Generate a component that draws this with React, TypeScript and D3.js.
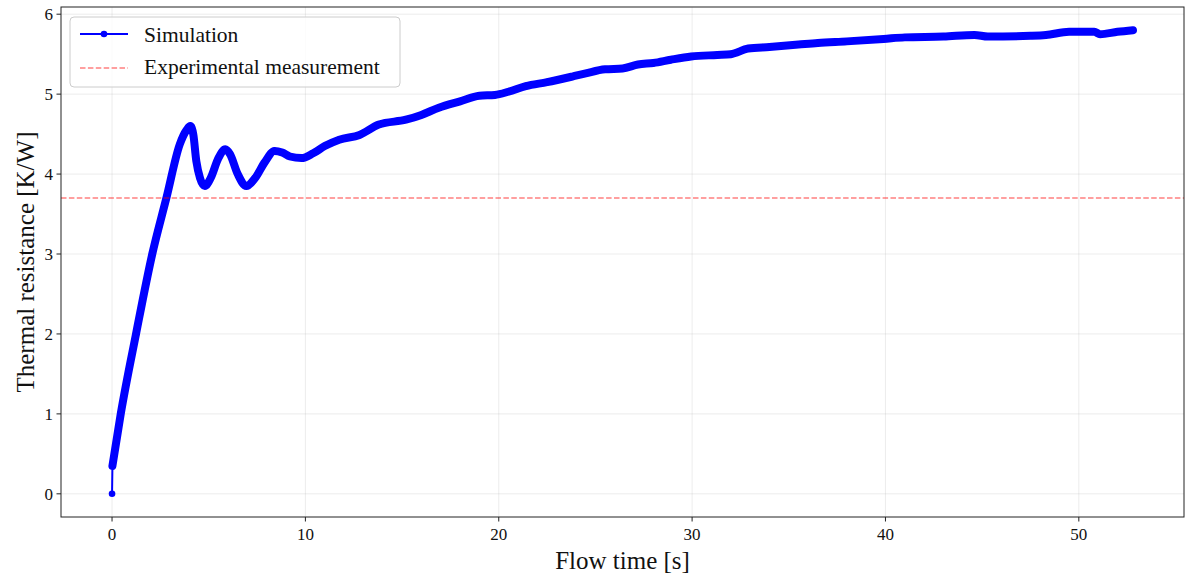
import React from "react";
import * as d3 from "d3";

// Simulated thermal resistance over flow time
const flowTime = [
  0, 0.02, 0.45, 1.24, 2.08, 2.82, 3.5, 3.85, 4.05, 4.2, 4.36, 4.55, 4.8, 5.1, 5.5, 5.86,
  6.1, 6.5, 6.94, 7.4, 7.9, 8.4, 8.8, 9.2, 9.8, 10.4, 11.0, 11.75, 12.8, 13.8,
  15.2, 16.0, 16.9, 18.0, 19.0, 19.8, 20.5, 21.4, 22.5, 23.8, 24.5, 25.5, 26.4,
  27.2, 28.0, 28.9, 29.95, 31.3, 32.0, 32.9, 34.0, 35.5, 36.5, 38.0, 39.9, 41.0,
  43.0, 44.6, 45.3, 47.5, 48.3, 49.5, 50.8, 51.1, 52.0, 52.8,
];
const thermalResistance = [
  0, 0.35, 1.0, 2.0, 3.0, 3.71, 4.37, 4.55, 4.6, 4.5, 4.16, 3.95, 3.85, 3.95, 4.2, 4.31,
  4.25, 4.0, 3.85, 3.95, 4.15, 4.29, 4.27, 4.22, 4.2, 4.26, 4.35, 4.43, 4.49, 4.62,
  4.68, 4.74, 4.83, 4.91, 4.98, 4.99, 5.03, 5.1, 5.15, 5.22, 5.26, 5.31, 5.32,
  5.37, 5.39, 5.43, 5.47, 5.49, 5.5, 5.57, 5.59, 5.62, 5.64, 5.66, 5.69, 5.71,
  5.72, 5.74, 5.72, 5.73, 5.74, 5.78, 5.78, 5.75, 5.78, 5.8,
];
const experimentalValue = 3.7;

const xTicks = [0, 10, 20, 30, 40, 50];
const yTicks = [0, 1, 2, 3, 4, 5, 6];

const legendLabels = ["Simulation", "Experimental measurement"];

const W = 1189;
const H = 581;
const plot = { left: 61, right: 1184, top: 7, bottom: 517 };
const FONT = "'Liberation Serif', 'Times New Roman', serif";
const BLUE = "#0000ff";
const INK = "#111";

export default function App() {
  const xMax = d3.max(flowTime) as number;
  const yMax = d3.max(thermalResistance) as number;
  const xPad = xMax * 0.05;
  const yPad = yMax * 0.05;

  const x = d3
    .scaleLinear()
    .domain([-xPad, xMax + xPad])
    .range([plot.left, plot.right]);
  const y = d3
    .scaleLinear()
    .domain([-yPad, yMax + yPad])
    .range([plot.bottom, plot.top]);

  const pts = flowTime.map((t, i) => [t, thermalResistance[i]] as [number, number]);

  const line = d3
    .line<[number, number]>()
    .x((d) => x(d[0]))
    .y((d) => y(d[1]))
    .curve(d3.curveMonotoneX);

  // The thin connecting line covers all samples; the dense marker band starts after t=0
  const thinPath = d3
    .line<[number, number]>()
    .x((d) => x(d[0]))
    .y((d) => y(d[1]))(pts) as string;
  const bandPath = line(pts.slice(1)) as string;

  const expY = y(experimentalValue);

  return (
    <svg width={W} height={H} style={{ display: "block", position: "absolute", left: 0, top: 0 }}>
      <rect width={W} height={H} fill="#fff" />
      <defs>
        <clipPath id="plotArea">
          <rect x={plot.left} y={plot.top} width={plot.right - plot.left} height={plot.bottom - plot.top} />
        </clipPath>
      </defs>

      {/* grid */}
      <g stroke="#b0b0b0" strokeOpacity={0.3} strokeWidth={0.8}>
        {xTicks.map((t) => (
          <line key={"gx" + t} x1={x(t)} x2={x(t)} y1={plot.top} y2={plot.bottom} />
        ))}
        {yTicks.map((t) => (
          <line key={"gy" + t} x1={plot.left} x2={plot.right} y1={y(t)} y2={y(t)} />
        ))}
      </g>

      <g clipPath="url(#plotArea)">
        {/* simulation */}
        <path d={thinPath} fill="none" stroke={BLUE} strokeWidth={2} />
        <path
          d={bandPath}
          fill="none"
          stroke={BLUE}
          strokeWidth={8}
          strokeLinecap="round"
          strokeLinejoin="round"
        />
        {pts.map((p, i) => (
          <circle key={"m" + i} cx={x(p[0])} cy={y(p[1])} r={3.3} fill={BLUE} />
        ))}
        {/* experimental reference */}
        <line
          x1={plot.left}
          x2={plot.right}
          y1={expY}
          y2={expY}
          stroke="#ff0000"
          strokeOpacity={0.5}
          strokeWidth={1.5}
          strokeDasharray="5.5,2.4"
        />
      </g>

      {/* axes frame */}
      <rect
        x={plot.left}
        y={plot.top}
        width={plot.right - plot.left}
        height={plot.bottom - plot.top}
        fill="none"
        stroke="#222"
        strokeWidth={1}
      />

      {/* ticks */}
      <g fontFamily={FONT} fontSize={17} fill={INK}>
        {xTicks.map((t) => (
          <g key={"xt" + t}>
            <line x1={x(t)} x2={x(t)} y1={plot.bottom} y2={plot.bottom + 4.5} stroke="#222" strokeWidth={1} />
            <text x={x(t)} y={plot.bottom + 23} textAnchor="middle">
              {t}
            </text>
          </g>
        ))}
        {yTicks.map((t) => (
          <g key={"yt" + t}>
            <line x1={plot.left - 4.5} x2={plot.left} y1={y(t)} y2={y(t)} stroke="#222" strokeWidth={1} />
            <text x={plot.left - 8} y={y(t) + 6} textAnchor="end">
              {t}
            </text>
          </g>
        ))}
      </g>

      {/* axis titles */}
      <text
        x={(plot.left + plot.right) / 2}
        y={569}
        textAnchor="middle"
        fontFamily={FONT}
        fontSize={25}
        fill={INK}
      >
        Flow time [s]
      </text>
      <text
        transform={`translate(34, ${(plot.top + plot.bottom) / 2}) rotate(-90)`}
        textAnchor="middle"
        fontFamily={FONT}
        fontSize={25}
        fill={INK}
      >
        Thermal resistance [K/W]
      </text>

      {/* legend */}
      <g>
        <rect x={70} y={17} width={330} height={70} rx={4} fill="#fff" fillOpacity={0.8} stroke="#ccc" strokeWidth={1} />
        <line x1={80} x2={128} y1={34} y2={34} stroke={BLUE} strokeWidth={2} />
        <circle cx={104} cy={34} r={3.3} fill={BLUE} />
        <line
          x1={80}
          x2={128}
          y1={68}
          y2={68}
          stroke="#ff0000"
          strokeOpacity={0.5}
          strokeWidth={1.5}
          strokeDasharray="5.5,2.4"
        />
        <text x={144} y={41.5} fontFamily={FONT} fontSize={21.5} fill={INK}>
          {legendLabels[0]}
        </text>
        <text x={144} y={74} fontFamily={FONT} fontSize={21.5} fill={INK}>
          {legendLabels[1]}
        </text>
      </g>
    </svg>
  );
}
